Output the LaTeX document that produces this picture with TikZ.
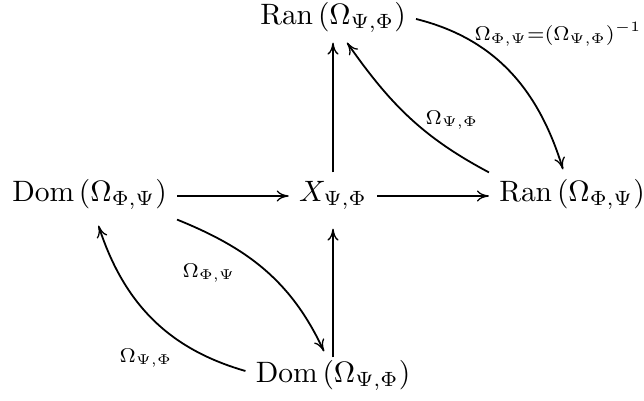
\documentclass[tikz,border=0pt]{standalone}
\usetikzlibrary{arrows.meta}
\tikzset{
  obj/.style={scale=2.95, anchor=base, inner xsep=3.3pt, inner ysep=2.7pt, text height=6.8pt, text depth=3.4pt},
  lab/.style={scale=2.85, inner sep=0pt},
  arr/.style={line width=1.8pt, -{To[length=12pt,width=11pt,line width=1.3pt]}}
}
\begin{document}
\begin{tikzpicture}[x=1pt,y=1pt]
\useasboundingbox (0,0) rectangle (644,400);
\node[obj] (top) at (333,376) {$\mathrm{Ran}\,(\Omega_{\Psi,\Phi})$};
\node[obj] (left) at (89.5,199) {$\mathrm{Dom}\,(\Omega_{\Phi,\Psi})$};
\node[obj] (X) at (333,199) {$X_{\Psi,\Phi}$};
\node[obj] (right) at (572,199) {$\mathrm{Ran}\,(\Omega_{\Phi,\Psi})$};
\node[obj] (bot) at (333,18) {$\mathrm{Dom}\,(\Omega_{\Psi,\Phi})$};

\draw[arr] (left) -- (X);
\draw[arr] (X) -- (right);
\draw[arr] (X) -- (top);
\draw[arr, shorten <=-4pt, shorten >=9pt] (bot) -- (X);

\draw[arr] (top.east) to[out=-14,in=107] ([xshift=-9pt,yshift=3pt]right.north);
\draw[arr] (right.north west) to[out=152,in=-55] ([xshift=14pt]top.south);
\draw[arr] (left.south east) to[out=-22,in=115] ([xshift=-9pt,yshift=2pt]bot.north);
\draw[arr] ([yshift=6pt]bot.west) to[out=164,in=-72] ([xshift=9pt,yshift=-6pt]left.south);

\node[lab, anchor=east] (l1) at (642,366) {$\scriptstyle\Omega_{\Phi,\Psi}=(\Omega_{\Psi,\Phi})^{-1}$};
\node[lab] (l2) at (452,280) {$\scriptstyle\Omega_{\Psi,\Phi}$};
\node[lab] (l3) at (209,127) {$\scriptstyle\Omega_{\Phi,\Psi}$};
\node[lab] (l4) at (146,42) {$\scriptstyle\Omega_{\Psi,\Phi}$};
\end{tikzpicture}
\end{document}
